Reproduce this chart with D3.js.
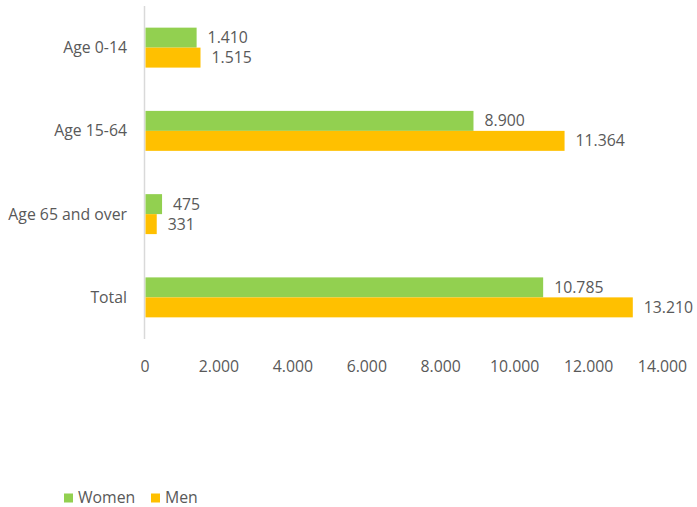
<!DOCTYPE html>
<html><head><meta charset="utf-8">
<script src="https://cdn.jsdelivr.net/npm/d3@7"></script>
<style>body{margin:0;background:#fff}text{font-family:"Open Sans",sans-serif;fill:#595959}</style>
</head><body><svg id="c" width="697" height="507"></svg>
<script>
const categories = ["Age 0-14","Age 15-64","Age 65 and over","Total"];
const women = [1410, 8900, 475, 10785];
const men = [1515, 11364, 331, 13210];
const seriesNames = ["Women","Men"];
const colors = ["#92D050","#FFC000"];
const tickValues = [0,2000,4000,6000,8000,10000,12000,14000];
const fmt = v => d3.format(",")(v).replace(/,/g,".");
const FS = 15.8;

const svg = d3.select("#c");
const x = d3.scaleLinear().domain([0,14000]).range([144.5,662]);
const y = d3.scaleBand().domain(categories).range([6,339]).paddingInner(0.52).paddingOuter(0.26);
const sub = d3.scaleBand().domain(seriesNames).range([0,y.bandwidth()]);

svg.append("line").attr("x1",x(0)).attr("x2",x(0)).attr("y1",6).attr("y2",339)
  .attr("stroke","#d9d9d9").attr("stroke-width",1.5);

const data = categories.map((c,i)=>({c, vals:[women[i],men[i]]}));
const g = svg.selectAll("g.cat").data(data).join("g").attr("transform",d=>`translate(0,${y(d.c)})`);
g.selectAll("rect").data(d=>d.vals.map((v,j)=>({v,s:seriesNames[j],j}))).join("rect")
  .attr("x",x(0)+1).attr("y",d=>sub(d.s)).attr("height",sub.bandwidth())
  .attr("width",d=>x(d.v)-x(0)-1).attr("fill",d=>colors[d.j]);
g.selectAll("text.val").data(d=>d.vals.map((v,j)=>({v,s:seriesNames[j],j}))).join("text")
  .attr("class","val").attr("x",d=>x(d.v)+11).attr("y",d=>sub(d.s)+sub.bandwidth()/2)
  .attr("dy","0.35em").attr("font-size",FS).text(d=>fmt(d.v));

svg.selectAll("text.cat").data(categories).join("text").attr("class","cat")
  .attr("x",127).attr("y",d=>y(d)+y.bandwidth()/2).attr("dy","0.35em")
  .attr("text-anchor","end").attr("font-size",FS).text(d=>d);

const ax = d3.axisBottom(x).tickValues(tickValues).tickSize(0).tickPadding(0).tickFormat(fmt);
const axg = svg.append("g").attr("transform","translate(0,366)").call(ax);
axg.select(".domain").remove();
axg.selectAll("text").attr("dy","0.35em").attr("font-size",FS).attr("fill","#595959").attr("font-family","'Open Sans',sans-serif");

const leg = svg.append("g");
const li = [{n:"Women",x:64},{n:"Men",x:151}];
li.forEach((d,i)=>{
  leg.append("rect").attr("x",d.x).attr("y",493.5).attr("width",9).attr("height",9).attr("fill",colors[i]);
  leg.append("text").attr("x",d.x+14).attr("y",497.5).attr("dy","0.35em").attr("font-size",FS).text(d.n);
});
</script></body></html>
